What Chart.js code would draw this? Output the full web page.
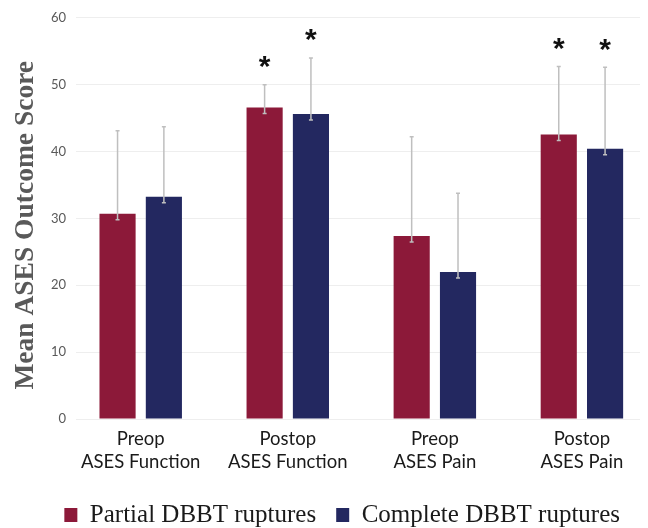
<!DOCTYPE html>
<html>
<head>
<meta charset="utf-8">
<script src="https://cdn.jsdelivr.net/npm/chart.js@4"></script>
<style>
  html, body { margin: 0; padding: 0; background: #fff; }
  #wrap { width: 648px; height: 528px; }
</style>
</head>
<body>
<div id="wrap"><canvas id="grafico" width="648" height="528"></canvas></div>
<script>
// Datos
var categorias = [['Preop', 'ASES Function'], ['Postop', 'ASES Function'], ['Preop', 'ASES Pain'], ['Postop', 'ASES Pain']];
var mediaParcial = [30.7, 46.6, 27.35, 42.55];
var desvParcial = [12.4, 3.4, 14.85, 10.15];
var mediaCompleta = [33.25, 45.6, 22.0, 40.4];
var desvCompleta = [10.45, 8.4, 11.75, 12.2];
var sigParcial = [false, true, false, true];
var sigCompleta = [false, true, false, true];
var ticksY = [0, 10, 20, 30, 40, 50, 60];

function puntos(valores) {
  return valores.map(function (v, i) { return { x: i, y: v }; });
}

// Barras de error (solo hacia arriba) y asteriscos
var pluginErrores = {
  id: 'errores',
  afterDatasetsDraw: function (chart) {
    var ctx = chart.ctx;
    var y = chart.scales.y;
    chart.data.datasets.forEach(function (ds, d) {
      var meta = chart.getDatasetMeta(d);
      meta.data.forEach(function (bar, i) {
        var top = y.getPixelForValue(ds.data[i].y + ds.sd[i]);
        var base = bar.y + 6;
        ctx.save();
        ctx.strokeStyle = '#bfbfbf';
        ctx.lineWidth = 1.5;
        ctx.beginPath();
        ctx.moveTo(bar.x, top);
        ctx.lineTo(bar.x, base);
        ctx.moveTo(bar.x - 2, top);
        ctx.lineTo(bar.x + 2, top);
        ctx.moveTo(bar.x - 2, base);
        ctx.lineTo(bar.x + 2, base);
        ctx.stroke();
        if (ds.sig[i]) {
          ctx.fillStyle = '#111';
          ctx.font = 'bold 30px "Liberation Sans"';
          ctx.textAlign = 'center';
          ctx.textBaseline = 'middle';
          ctx.fillText('*', bar.x, top - 17);
        }
        ctx.restore();
      });
    });
  }
};

new Chart(document.getElementById('grafico'), {
  type: 'bar',
  data: {
    datasets: [{
      label: 'Partial DBBT ruptures',
      data: puntos(mediaParcial),
      sd: desvParcial,
      sig: sigParcial,
      backgroundColor: '#8c1939'
    }, {
      label: 'Complete DBBT ruptures',
      data: puntos(mediaCompleta),
      sd: desvCompleta,
      sig: sigCompleta,
      backgroundColor: '#232860'
    }]
  },
  options: {
    responsive: false,
    animation: false,
    categoryPercentage: 0.63,
    barPercentage: 0.78,
    layout: { padding: { top: 13, right: 8, left: 0, bottom: -9.5 } },
    plugins: {
      tooltip: { enabled: false },
      legend: {
        position: 'bottom',
        align: 'end',
        labels: {
          boxWidth: 13,
          boxHeight: 14,
          padding: 20,
          color: '#1a1a1a',
          font: { family: '"Liberation Serif"', size: 25 }
        }
      }
    },
    scales: {
      x: {
        type: 'linear',
        min: -0.44,
        max: 3.395,
        offset: false,
        grid: { display: false, drawTicks: false },
        border: { display: false },
        afterBuildTicks: function (scale) {
          scale.ticks = categorias.map(function (c, i) { return { value: i }; });
        },
        afterFit: function (scale) { scale.height = 63.5; },
        ticks: {
          padding: 9,
          color: '#1a1a1a',
          font: { family: 'Lato', size: 18.5, lineHeight: 1.23 },
          callback: function (v) { return categorias[v]; }
        }
      },
      y: {
        min: 0,
        max: 60,
        afterBuildTicks: function (scale) {
          scale.ticks = ticksY.map(function (v) { return { value: v }; });
        },
        afterFit: function (scale) { scale.width = 76; },
        grid: { color: '#eeeeee', lineWidth: 1, drawTicks: false },
        border: { display: false },
        ticks: {
          padding: 10,
          color: '#595959',
          font: { family: 'Lato', size: 13 }
        },
        title: {
          display: true,
          text: 'Mean ASES Outcome Score  ',
          color: '#595959',
          padding: { top: 9, bottom: 0 },
          font: { family: '"Liberation Serif"', size: 27.5, weight: 'bold' }
        }
      }
    }
  },
  plugins: [pluginErrores]
});
</script>
</body>
</html>
